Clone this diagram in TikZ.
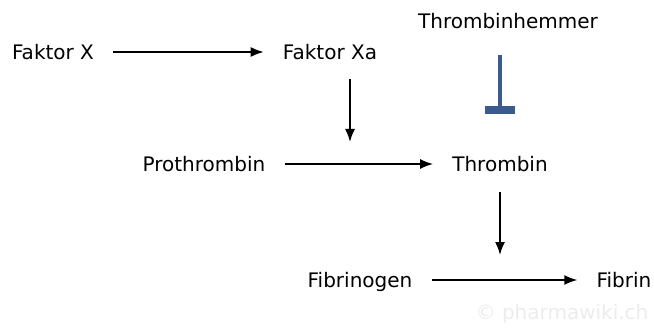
\documentclass[tikz,border=0pt]{standalone}
\usepackage{fontspec}
\setmainfont{DejaVu Sans}
\usetikzlibrary{arrows.meta}
\definecolor{inhibblue}{RGB}{59,91,142}
\definecolor{wmgray}{RGB}{236,236,236}
\tikzset{
  x=1pt, y=-1pt,
  factor/.style={font=\fontsize{20}{24}\selectfont, text height=14.6pt, text depth=0pt,
                 inner xsep=19pt, inner ysep=20pt},
  conv/.style={line width=1.7pt, -{Latex[length=13pt,width=10pt]}},
  inhib/.style={draw=inhibblue, line width=4pt, -{Bar[width=30pt,line width=8pt]}}
}
\begin{document}
\begin{tikzpicture}
  \useasboundingbox (0,0) rectangle (654,329);
  % substances
  \node[factor] (fx)   at (53,52)   {Faktor X};
  \node[factor] (fxa)  at (330,52)  {Faktor Xa};
  \node[factor] (hem)  at (508,21)  {Thrombinhemmer};
  \node[factor] (pro)  at (204,164) {Prothrombin};
  \node[factor] (thr)  at (500,164) {Thrombin};
  \node[factor] (fbg)  at (360,280) {Fibrinogen};
  \node[factor] (fib)  at (624,280) {Fibrin};
  % points where an enzyme acts on a conversion
  \coordinate (act1) at (350,142);
  \coordinate (act2) at (500,255);
  \coordinate (block) at (500,114);
  % conversions
  \draw[conv] (fx) -- (fxa);
  \draw[conv] (pro) -- (thr);
  \draw[conv] (fbg) -- (fib);
  % activations
  \draw[conv] (fxa.south -| act1) -- (act1);
  \draw[conv] (thr.south) -- (act2);
  % inhibition
  \draw[inhib] (500,55) -- (block);
  % watermark
  \node[font=\fontsize{20}{24}\selectfont, text=wmgray] (wm) at (562,314) {© pharmawiki.ch};
\end{tikzpicture}
\end{document}
